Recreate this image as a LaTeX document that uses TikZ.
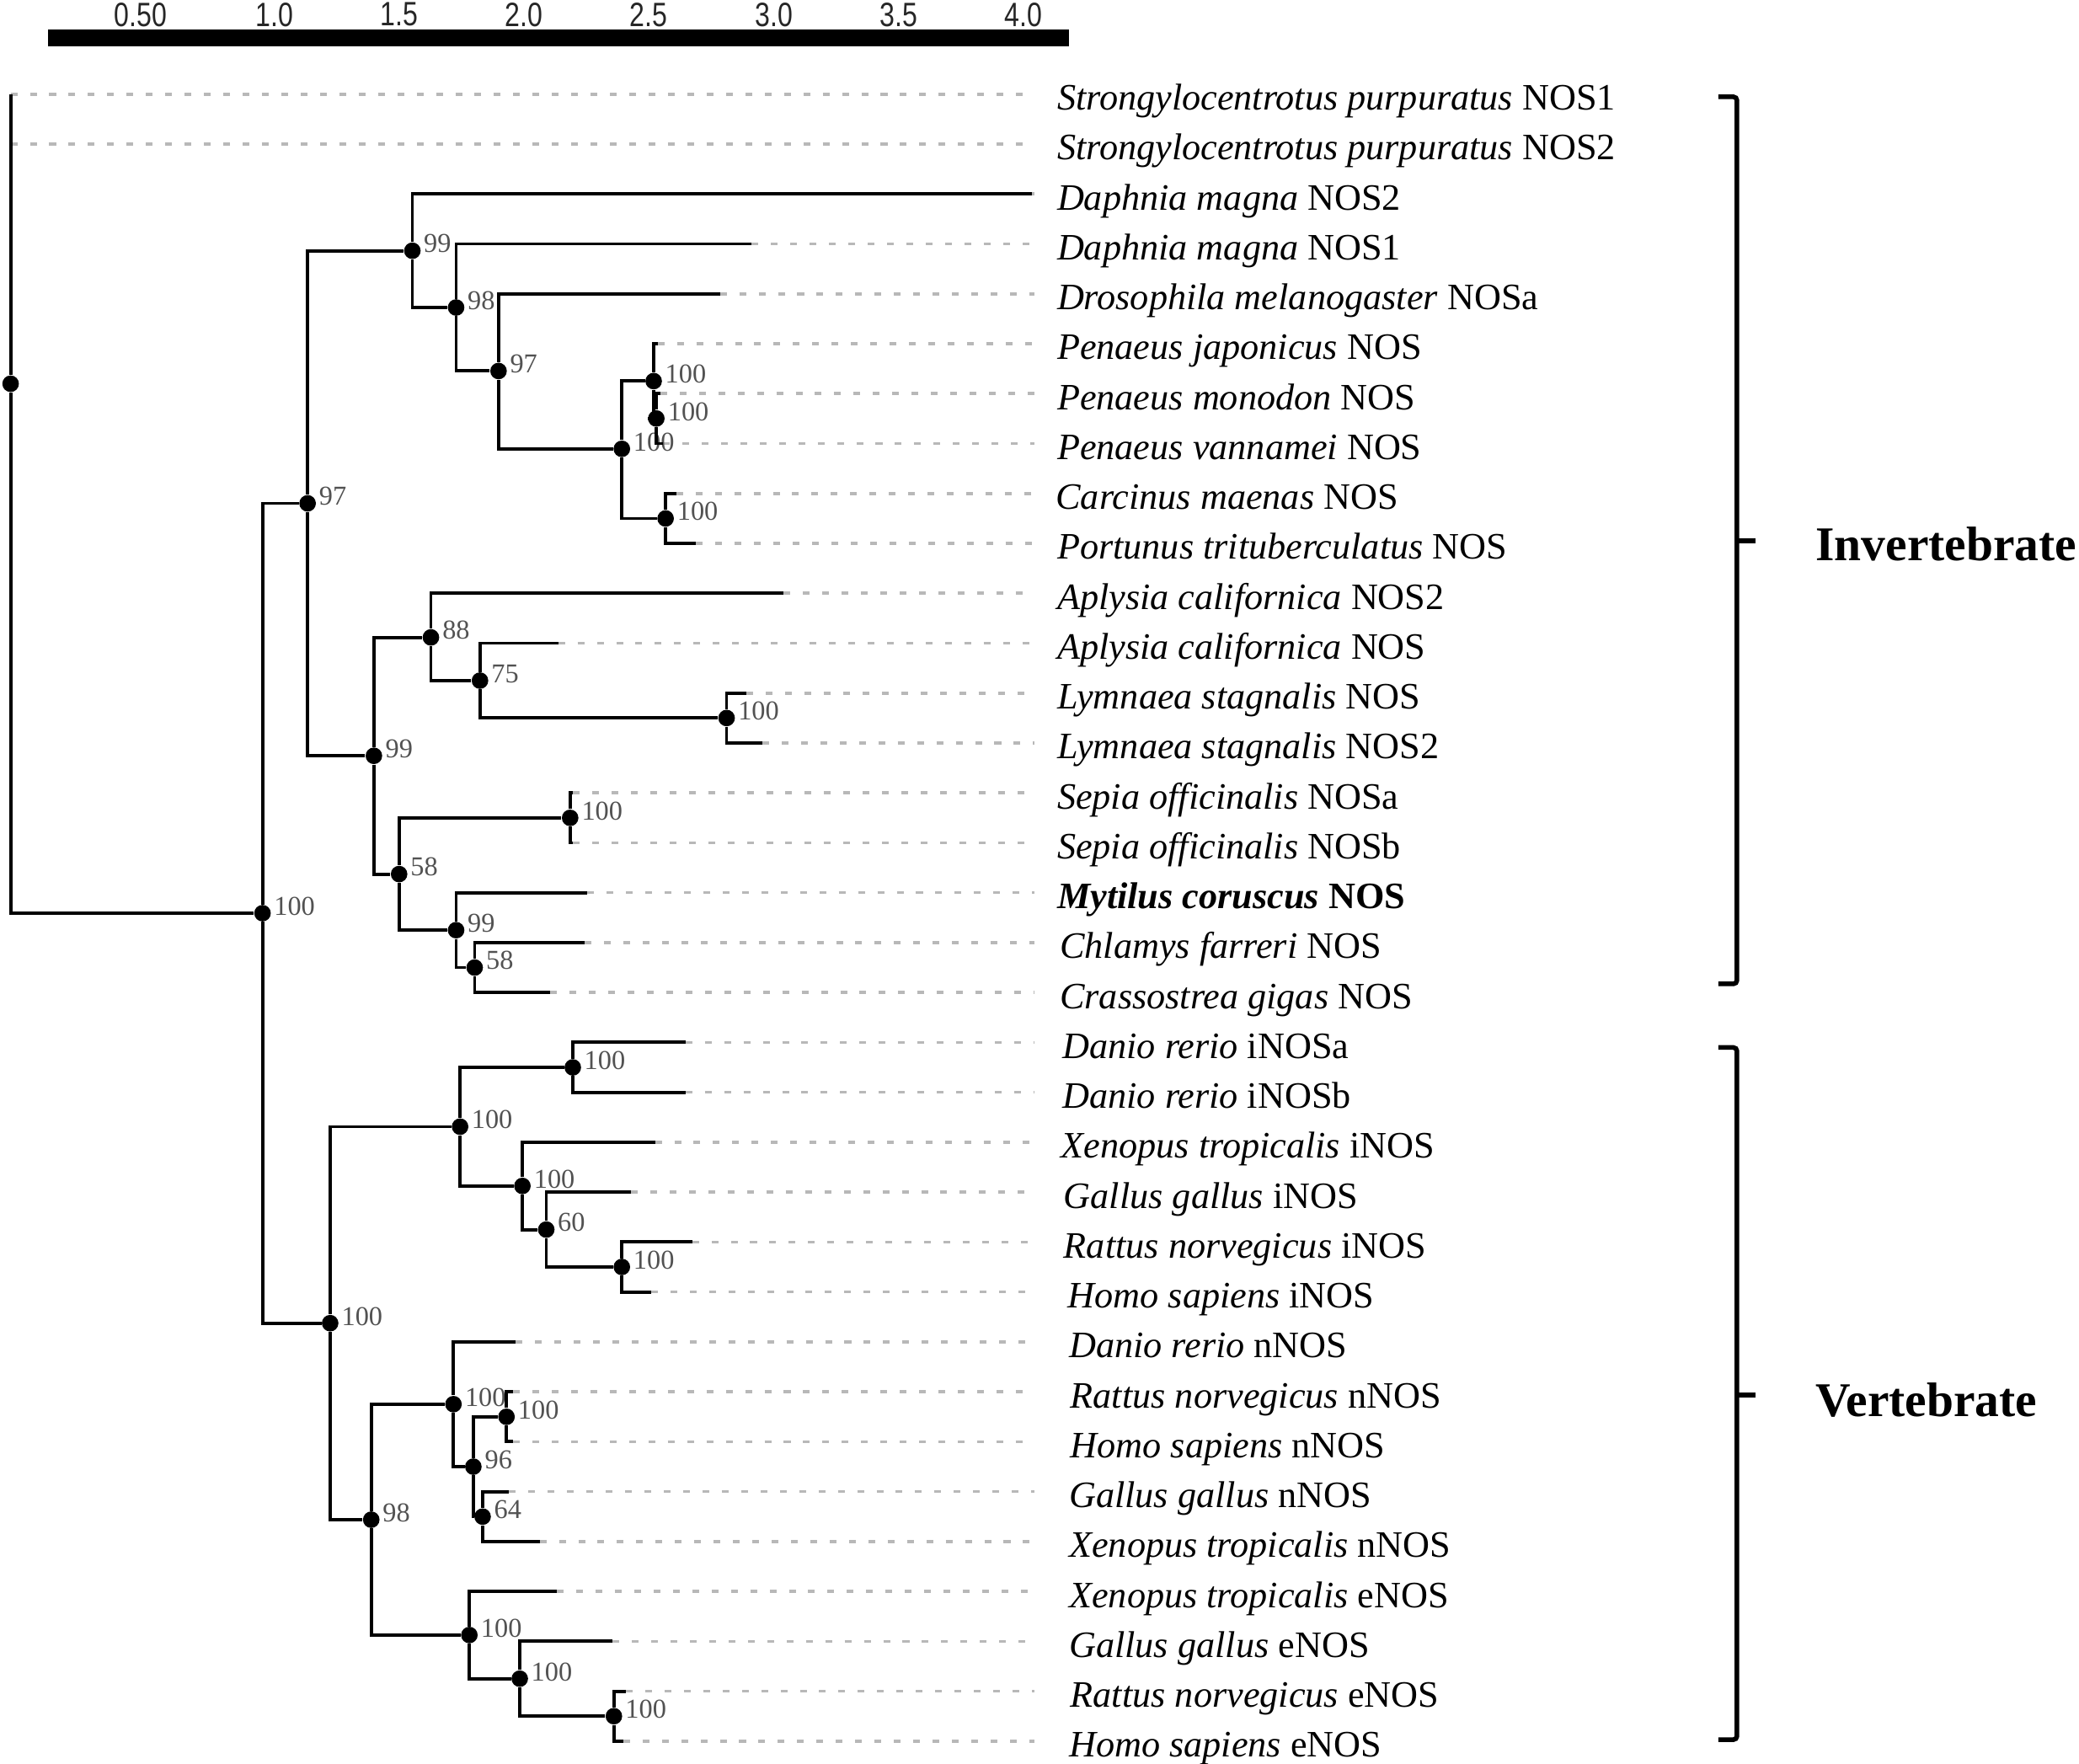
\documentclass[tikz,border=0pt]{standalone}
\usepackage{fontspec}
\setmainfont{Liberation Serif}
\newfontfamily\barfont[FakeStretch=0.8]{Liberation Sans}

\tikzset{
  branch/.style={line width=1.4pt},
  guide/.style={draw=black!28, line width=1.3pt, dash pattern=on 2.9pt off 5.4pt},
  dot/.style={circle, fill=black, inner sep=0pt, minimum size=0.25cm},
  boot/.style={text=black!68, font=\fontsize{11.7}{13}\selectfont, inner sep=1pt, yshift=3pt},
  taxon/.style={anchor=base west, inner sep=0pt, font=\fontsize{16}{19}\selectfont},
  clade/.style={anchor=west, inner sep=0pt, font=\fontsize{20.8}{24}\selectfont\bfseries},
  brace/.style={line width=2pt, rounded corners=1.5pt},
  barlbl/.style={font={\fontsize{14.5}{16}\barfont}, text=black!85}
}

\begin{document}
\begin{tikzpicture}[x=0.02cm, y=-0.02cm]
        \useasboundingbox (0,0) rectangle (1568,1330);

        % scale bar
        \fill (36,22) rectangle (806,35);
        \foreach \v/\x in {0.50/106, 1.0/207, 1.5/301, 2.0/395, 2.5/489, 3.0/584, 3.5/678, 4.0/772}
            \node[barlbl] at (\x,11) {\v};

        % tips
        \foreach \i/\x/\sp/\gn/\lx in {
            1/8/Strongylocentrotus purpuratus/NOS1/797,
            2/8/Strongylocentrotus purpuratus/NOS2/797,
            3/778/Daphnia magna/NOS2/797,
            4/567/Daphnia magna/NOS1/797,
            5/543/Drosophila melanogaster/NOSa/797,
            6/496/Penaeus japonicus/NOS/797,
            7/498/Penaeus monodon/NOS/797,
            8/500/Penaeus vannamei/NOS/797,
            9/510/Carcinus maenas/NOS/796,
            10/525/Portunus trituberculatus/NOS/797,
            11/591/Aplysia californica/NOS2/797,
            12/421/Aplysia californica/NOS/797,
            13/563/Lymnaea stagnalis/NOS/797,
            14/575/Lymnaea stagnalis/NOS2/797,
            15/432/Sepia officinalis/NOSa/797,
            16/432/Sepia officinalis/NOSb/797,
            17/443/{\bfseries Mytilus coruscus}/{\bfseries NOS}/797,
            18/441/Chlamys farreri/NOS/799,
            19/415/Crassostrea gigas/NOS/799,
            20/517/Danio rerio/iNOSa/801,
            21/517/Danio rerio/iNOSb/801,
            22/494/Xenopus tropicalis/iNOS/800,
            23/476/Gallus gallus/iNOS/802,
            24/522/Rattus norvegicus/iNOS/802,
            25/491/Homo sapiens/iNOS/805,
            26/389/Danio rerio/nNOS/806,
            27/387/Rattus norvegicus/nNOS/807,
            28/387/Homo sapiens/nNOS/807,
            29/384/Gallus gallus/nNOS/806,
            30/407/Xenopus tropicalis/nNOS/806,
            31/420/Xenopus tropicalis/eNOS/806,
            32/462/Gallus gallus/eNOS/806,
            33/472/Rattus norvegicus/eNOS/807,
            34/470/Homo sapiens/eNOS/806}
        {
            \pgfmathsetmacro\y{71+37.64*(\i-1)}
            \coordinate (t\i) at (\x,\y);
            \coordinate (e\i) at (780,\y);
            \draw[guide] (t\i) -- (e\i);
            \node[taxon] (s\i) at (\lx,\y+12) {\textit{\sp} \gn};
        }

        % internal nodes
        \node[dot] (root) at (8,289.4) {};
        \node[dot, label={[boot]right:100}] (ingroup) at (198,688.7) {};

        \node[dot, label={[boot]right:97}] (invert) at (232,379.6) {};
        \node[dot, label={[boot]right:99}] (arthro) at (311,189.1) {};
        \node[dot, label={[boot]right:98}] (pancrust) at (344,231.9) {};
        \node[dot, label={[boot]right:97}] (dros) at (376,279.8) {};
        \node[dot, label={[boot]right:100}] (decapod) at (469,338.5) {};
        \node[dot, label={[boot]right:100}] (penaeus) at (493,287.4) {};
        \node[dot, label={[boot]right:100}] (penmv) at (495,315.6) {};
        \node[dot, label={[boot]right:100}] (crab) at (502,391) {};
        \node[dot, label={[boot]right:99}] (mollusc) at (282,570) {};
        \node[dot, label={[boot]right:88}] (gastro) at (325,480.7) {};
        \node[dot, label={[boot]right:75}] (aplyly) at (362,513.3) {};
        \node[dot, label={[boot]right:100}] (lymnaea) at (548,541.5) {};
        \node[dot, label={[boot]right:58}] (cephbiv) at (301,659.2) {};
        \node[dot, label={[boot]right:100}] (sepia) at (430,616.8) {};
        \node[dot, label={[boot]right:99}] (bivalve) at (344,701.5) {};
        \node[dot, label={[boot]right:58}] (oyster) at (358,729.7) {};

        \node[dot, label={[boot]right:100}] (vert) at (249,997.9) {};
        \node[dot, label={[boot]right:100}] (inos) at (347,849.7) {};
        \node[dot, label={[boot]right:100}] (danio) at (432,805) {};
        \node[dot, label={[boot]right:100}] (tetinos) at (394,894.4) {};
        \node[dot, label={[boot]right:60}] (amninos) at (412,927.3) {};
        \node[dot, label={[boot]right:100}] (mamminos) at (469,955.5) {};
        \node[dot, label={[boot]right:98}] (nne) at (280,1146.1) {};
        \node[dot, label={[boot]right:100}] (nnos) at (342,1059) {};
        \node[dot, label={[boot]right:96}] (tetnnos) at (357,1106.1) {};
        \node[dot, label={[boot]right:100}] (mammnnos) at (382,1068.5) {};
        \node[dot, label={[boot]right:64}] (xgnnos) at (364,1143.8) {};
        \node[dot, label={[boot]right:100}] (enos) at (354,1233.1) {};
        \node[dot, label={[boot]right:100}] (amnenos) at (392,1266) {};
        \node[dot, label={[boot]right:100}] (mammenos) at (463,1294.3) {};

        % branches
        \draw[branch] (root) |- (t1) (root) |- (t2) (root) |- (ingroup);
        \draw[branch] (ingroup) |- (invert) (ingroup) |- (vert);

        \draw[branch] (invert) |- (arthro) (invert) |- (mollusc);
        \draw[branch] (arthro) |- (t3) (arthro) |- (pancrust);
        \draw[branch] (pancrust) |- (t4) (pancrust) |- (dros);
        \draw[branch] (dros) |- (t5) (dros) |- (decapod);
        \draw[branch] (decapod) |- (penaeus) (decapod) |- (crab);
        \draw[branch] (penaeus) |- (t6) (penaeus) |- (penmv);
        \draw[branch] (penmv) |- (t7) (penmv) |- (t8);
        \draw[branch] (crab) |- (t9) (crab) |- (t10);
        \draw[branch] (mollusc) |- (gastro) (mollusc) |- (cephbiv);
        \draw[branch] (gastro) |- (t11) (gastro) |- (aplyly);
        \draw[branch] (aplyly) |- (t12) (aplyly) |- (lymnaea);
        \draw[branch] (lymnaea) |- (t13) (lymnaea) |- (t14);
        \draw[branch] (cephbiv) |- (sepia) (cephbiv) |- (bivalve);
        \draw[branch] (sepia) |- (t15) (sepia) |- (t16);
        \draw[branch] (bivalve) |- (t17) (bivalve) |- (oyster);
        \draw[branch] (oyster) |- (t18) (oyster) |- (t19);

        \draw[branch] (vert) |- (inos) (vert) |- (nne);
        \draw[branch] (inos) |- (danio) (inos) |- (tetinos);
        \draw[branch] (danio) |- (t20) (danio) |- (t21);
        \draw[branch] (tetinos) |- (t22) (tetinos) |- (amninos);
        \draw[branch] (amninos) |- (t23) (amninos) |- (mamminos);
        \draw[branch] (mamminos) |- (t24) (mamminos) |- (t25);
        \draw[branch] (nne) |- (nnos) (nne) |- (enos);
        \draw[branch] (nnos) |- (t26) (nnos) |- (tetnnos);
        \draw[branch] (tetnnos) |- (mammnnos) (tetnnos) |- (xgnnos);
        \draw[branch] (mammnnos) |- (t27) (mammnnos) |- (t28);
        \draw[branch] (xgnnos) |- (t29) (xgnnos) |- (t30);
        \draw[branch] (enos) |- (t31) (enos) |- (amnenos);
        \draw[branch] (amnenos) |- (t32) (amnenos) |- (mammenos);
        \draw[branch] (mammenos) |- (t33) (mammenos) |- (t34);

        % clade brackets
        \draw[brace] (1296,73) -- (1310,73) -- (1310,742) -- (1296,742);
        \draw[brace] (1310,408) -- (1324,408);
        \node[clade] (invlbl) at (1369,410) {Invertebrate};

        \draw[brace] (1296,790) -- (1310,790) -- (1310,1312) -- (1296,1312);
        \draw[brace] (1310,1052) -- (1324,1052);
        \node[clade] (vertlbl) at (1369,1056) {Vertebrate};
\end{tikzpicture}
\end{document}
